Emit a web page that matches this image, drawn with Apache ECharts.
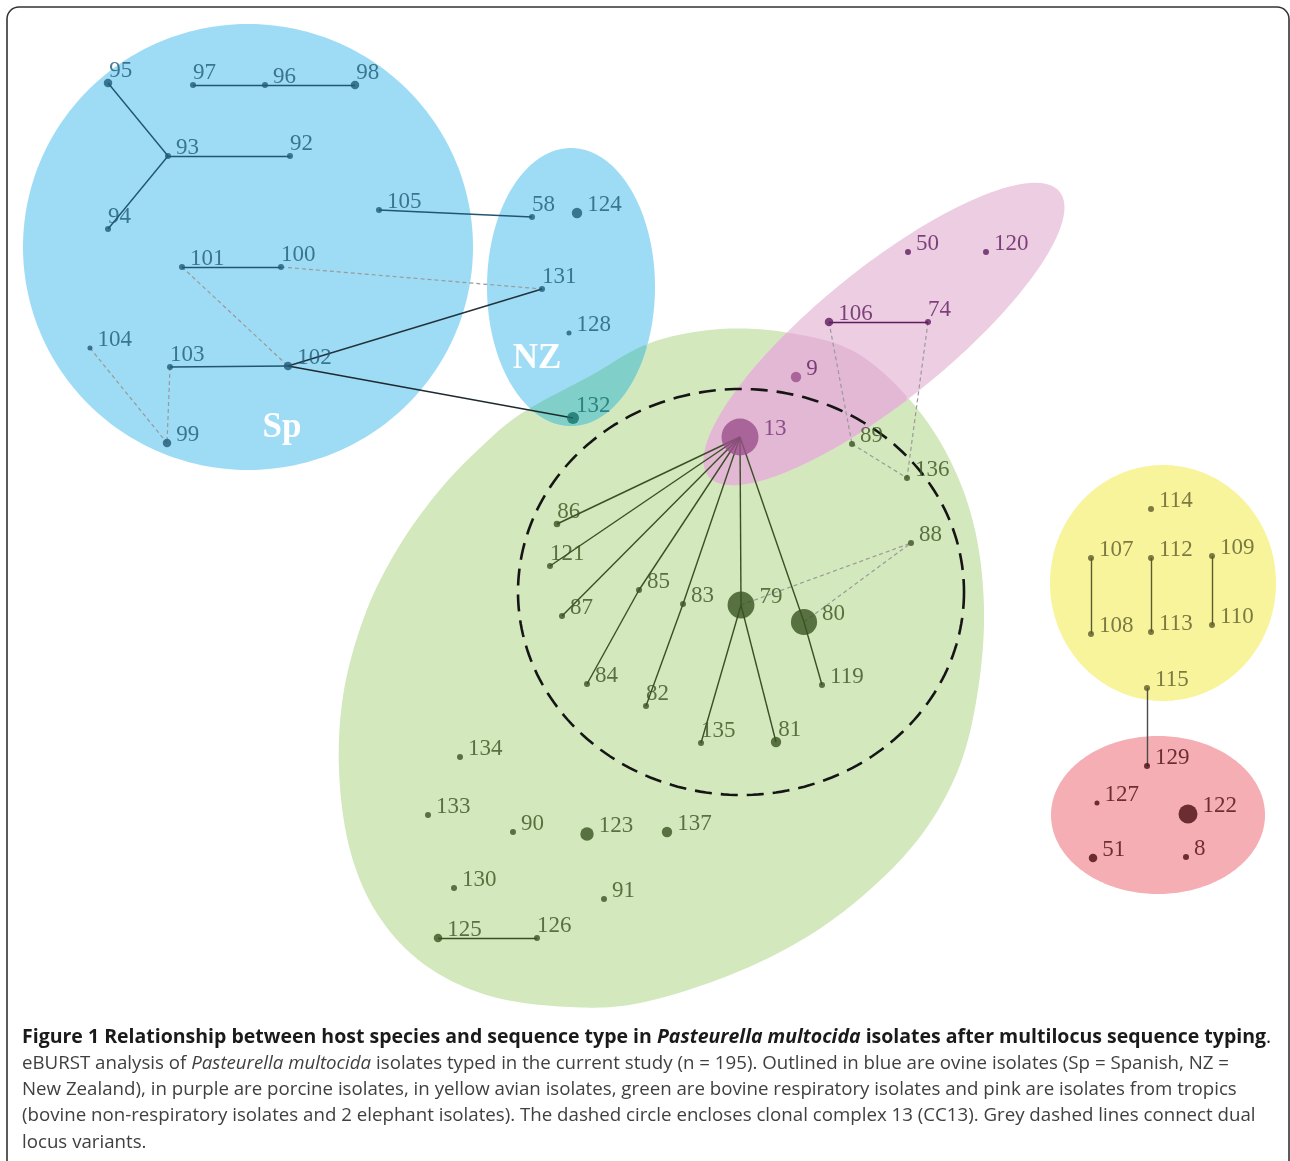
<!DOCTYPE html>
<html><head><meta charset="utf-8">
<script src="https://cdn.jsdelivr.net/npm/echarts/dist/echarts.min.js"></script>
<style>html,body{margin:0;padding:0;background:#fff}#c{width:1290px;height:1161px}</style>
</head><body><div id="c"></div>
<script>
// ---------- DATA ----------
// sequence types (eBURST nodes), layout coordinates, estimated isolate counts, host group
const stNames = ['95','97','96','98','93','92','94','105','101','100','104','103','102','99',
  '58','124','131','128','132',
  '50','120','106','74','9','13',
  '89','136','86','121','88','85','87','83','79','80','84','82','119','135','81','134','133','90','123','137','130','91','125','126',
  '114','107','112','109','108','113','110','115',
  '129','127','122','51','8'];
const stX = [108,193,265,355,168,290,108,379,182,281,90,170,288,167,
  532,577,542,569,573,
  908,986,829,928,796,740,
  852,907,557,550,911,639,562,683,741,804,587,646,822,701,776,460,428,513,587,667,454,604,438,537,
  1151,1091,1151,1212,1091,1151,1212,1147,
  1147,1097,1188,1093,1186];
const stY = [83,85,85,85,156,156,229,210,267,267,348,367,366,443,
  217,213,289,333,418,
  252,252,322,322,377,437,
  444,478,524,566,543,590,616,604,605,622,684,706,685,743,742,757,815,832,834,832,888,899,938,938,
  509,558,558,556,634,632,625,688,
  766,803,814,858,857];
const stIsolates = [2,1,1,2,1,1,1,1,1,1,0.7,1,2,2,
  1,3,1,0.7,4,
  1,1,2,1,3,38,
  1,1,1.2,1,1,1,1,1,20,19,1,1,1,1,3,1,1,1,5,3,1,1,2,1,
  1,1,1,1,1,1,1,1,
  1,0.7,10,2,1];
const stGroup = ['Sp','Sp','Sp','Sp','Sp','Sp','Sp','Sp','Sp','Sp','Sp','Sp','Sp','Sp',
  'NZ','NZ','NZ','NZ','NZ',
  'porcine','porcine','porcine','porcine','porcine','porcine',
  'bovine','bovine','bovine','bovine','bovine','bovine','bovine','bovine','bovine','bovine','bovine','bovine','bovine','bovine','bovine','bovine','bovine','bovine','bovine','bovine','bovine','bovine','bovine','bovine',
  'avian','avian','avian','avian','avian','avian','avian','avian',
  'tropics','tropics','tropics','tropics','tropics'];
// single locus variant links
const slvLinks = [['95','93'],['93','92'],['93','94'],['97','96'],['96','98'],['105','58'],['101','100'],
  ['103','102'],['102','131'],['102','132'],['106','74'],
  ['13','86'],['13','121'],['13','87'],['13','85'],['13','83'],['13','79'],['13','80'],
  ['85','84'],['83','82'],['79','135'],['79','81'],['80','119'],['125','126'],
  ['107','108'],['112','113'],['109','110'],['115','129']];
// double locus variant links (grey dashed)
const dlvLinks = [['100','131'],['101','102'],['104','99'],['103','99'],['106','89'],['74','136'],['89','136'],['79','88'],['80','88']];
const captionLines = [
  '{b|Figure 1 Relationship between host species and sequence type in }{bi|Pasteurella multocida}{b| isolates after multilocus sequence typing}{n|.}',
  'eBURST analysis of {i|Pasteurella multocida} isolates typed in the current study (n = 195). Outlined in blue are ovine isolates (Sp = Spanish, NZ =',
  'New Zealand), in purple are porcine isolates, in yellow avian isolates, green are bovine respiratory isolates and pink are isolates from tropics',
  '(bovine non-respiratory isolates and 2 elephant isolates). The dashed circle encloses clonal complex 13 (CC13). Grey dashed lines connect dual',
  'locus variants.'
];

// ---------- STYLE ----------
const groupColor = {Sp:'#1f5a77', NZ:'#1f5a77', porcine:'#5e1b5f', bovine:'#3a5222', avian:'#5d5b2b', tropics:'#4a0c12'};
const nodeColorOverride = {'132':'#17716c','9':'#9a4f8b','13':'#9a4f8b'};
const labelColorOverride = {'132':'#17716c','13':'#743274'};
const labelHug = new Set(['95','97','98','92','94','58','100','131','103','132','86','121','126','74','82','135','81']);
const edgeColor = {Sp:'#22556f', NZ:'#22556f', porcine:'#5e1b5f', bovine:'#3b4f25', avian:'#5d5b2b', tropics:'#4a0c12'};
const edgeOverride = {'102-131':'#22323c','102-132':'#1e2a30','115-129':'#4a4a4a'};
const serif = '"Liberation Serif","DejaVu Serif",serif';
const sans = '"Open Sans","Noto Sans",sans-serif';

// background host regions (shapes in layout space)
const greenCtrl = [[720,329],[790,333],[855,352],[910,400],[950,460],[975,530],[984,610],[978,690],[960,765],[925,830],[875,885],[810,935],[730,975],[640,1003],[570,1007],[490,996],[425,965],[378,915],[350,850],[339,770],[344,690],[366,612],[398,548],[438,492],[480,448],[522,413],[590,376],[650,343]];
const ellSp   = {c:[248,247], rx:225, ry:223, rot:0};
const ellNZ   = {c:[571,287], rx:84, ry:139, rot:0};
const ellPig  = {c:[884,334], rx:226, ry:66, rot:-39};
const ellAv   = {c:[1163,583], rx:113, ry:118, rot:0};
const ellTrop = {c:[1158,815], rx:107, ry:79, rot:0};
const ellCC13 = {c:[741,592], rx:223, ry:203, rot:0};

// ---------- GEOMETRY HELPERS ----------
function catmull(P, seg){
  const out=[], n=P.length;
  for(let i=0;i<n;i++){
    const p0=P[(i-1+n)%n], p1=P[i], p2=P[(i+1)%n], p3=P[(i+2)%n];
    for(let k=0;k<seg;k++){
      const t=k/seg, t2=t*t, t3=t2*t;
      out.push([0,1].map(d=>0.5*((2*p1[d])+(-p0[d]+p2[d])*t+(2*p0[d]-5*p1[d]+4*p2[d]-p3[d])*t2+(-p0[d]+3*p1[d]-3*p2[d]+p3[d])*t3)));
    }
  }
  return out;
}
function ellPoly(r){
  const pts=[], th=r.rot*Math.PI/180;
  for(let k=0;k<240;k++){
    const t=k/240*2*Math.PI, ex=r.rx*Math.cos(t), ey=r.ry*Math.sin(t);
    pts.push([r.c[0]+ex*Math.cos(th)-ey*Math.sin(th), r.c[1]+ex*Math.sin(th)+ey*Math.cos(th)]);
  }
  return pts;
}
function inPoly(p, poly){
  let c=false;
  for(let i=0,j=poly.length-1;i<poly.length;j=i++){
    const a=poly[i], b=poly[j];
    if(((a[1]>p[1])!==(b[1]>p[1])) && (p[0] < (b[0]-a[0])*(p[1]-a[1])/(b[1]-a[1])+a[0])) c=!c;
  }
  return c;
}
function intersect(A,B){
  const pts=A.filter(p=>inPoly(p,B)).concat(B.filter(p=>inPoly(p,A)));
  if(!pts.length) return pts;
  const cx=pts.reduce((s,p)=>s+p[0],0)/pts.length, cy=pts.reduce((s,p)=>s+p[1],0)/pts.length;
  return pts.sort((p,q)=>Math.atan2(p[1]-cy,p[0]-cx)-Math.atan2(q[1]-cy,q[0]-cx));
}

const greenPoly = catmull(greenCtrl, 14);
const nzPoly = ellPoly(ellNZ), pigPoly = ellPoly(ellPig);
const regions = [
  {pts:greenPoly, fill:'#d3e8bc'},
  {pts:ellPoly(ellSp), fill:'#9edcf5', text:'Sp', tp:[282,428]},
  {pts:nzPoly, fill:'#9edcf5', text:'NZ', tp:[537,359]},
  {pts:intersect(nzPoly, greenPoly), fill:'#80cfc8'},
  {pts:pigPoly, fill:'#edcde2'},
  {pts:intersect(pigPoly, greenPoly), fill:'#e3b8d5'},
  {pts:ellPoly(ellAv), fill:'#f8f49c'},
  {pts:ellPoly(ellTrop), fill:'#f5aeb3'},
  {pts:ellPoly(ellCC13), stroke:'#151515', dash:[17,9]}
];

// ---------- BUILD ----------
const idx = {};
stNames.forEach((n,i)=>idx[n]=i);

const nodeData = stNames.map((n,i)=>({
  name:n,
  value:[stX[i], stY[i]],
  symbolSize: 6*Math.sqrt(stIsolates[i]),
  itemStyle:{color: nodeColorOverride[n] || groupColor[stGroup[i]]},
  label:{color: labelColorOverride[n] || groupColor[stGroup[i]], offset: labelHug.has(n) ? [-8,-12] : [0,-8]}
}));

function linkData(list, dashed){
  return list.map(([a,b])=>{
    const ia=idx[a], ib=idx[b];
    const col = dashed ? '#9a9a9a' : (edgeOverride[a+'-'+b] || edgeColor[stGroup[ib]]);
    return {coords:[[stX[ia],stY[ia]],[stX[ib],stY[ib]]],
      lineStyle:{color:col, width: dashed?1.2:1.4, type: dashed?[4,3]:'solid', opacity:1}};
  });
}

const chart = echarts.init(document.getElementById('c'), null, {renderer:'canvas'});
chart.setOption({
  animation:false,
  backgroundColor:'#ffffff',
  grid:{left:0,right:0,top:0,bottom:0},
  xAxis:{type:'value',min:0,max:1290,show:false},
  yAxis:{type:'value',min:0,max:1161,inverse:true,show:false},
  series:[
    {type:'custom', coordinateSystem:'cartesian2d', silent:true, z:1, clip:false,
      data: regions.map((r,i)=>[i,0]),
      renderItem:(params, api)=>{
        const r = regions[params.dataIndex];
        const children=[];
        const pts = r.pts.map(p=>api.coord(p));
        if(r.stroke){
          children.push({type:'polygon', shape:{points:pts}, style:{fill:null, stroke:r.stroke, lineWidth:2.6, lineDash:r.dash}});
        } else if(pts.length){
          children.push({type:'polygon', shape:{points:pts}, style:{fill:r.fill}});
        }
        if(r.text){
          const p=api.coord(r.tp);
          children.push({type:'text', x:p[0], y:p[1], style:{text:r.text, fill:'#ffffff', font:'bold 35px '+serif, align:'center', verticalAlign:'middle'}});
        }
        return {type:'group', children};
      }
    },
    {type:'lines', coordinateSystem:'cartesian2d', silent:true, z:2, data:linkData(dlvLinks,true)},
    {type:'lines', coordinateSystem:'cartesian2d', silent:true, z:3, data:linkData(slvLinks,false)},
    {type:'scatter', silent:true, z:4, symbol:'circle',
      data:nodeData,
      label:{show:true, formatter:'{b}', position:'right', distance:5, fontFamily:serif, fontSize:23}
    }
  ],
  graphic:[
    {type:'rect', shape:{x:7,y:7,width:1282,height:1175,r:12}, style:{fill:null, stroke:'#333', lineWidth:1.6}, z:10},
    ...captionLines.map((t,i)=>({
      type:'text', x:22, y:1037+i*26.3, z:10,
      style:{text:t, font:'18.7px '+sans, fill:'#404040', verticalAlign:'middle', align:'left',
        rich:{
          b:{fontFamily:sans, fontWeight:'bold', fontSize:19.5, fill:'#1a1a1a'},
          bi:{fontFamily:sans, fontWeight:'bold', fontStyle:'italic', fontSize:19.5, fill:'#1a1a1a'},
          n:{fontFamily:sans, fontSize:19.5, fill:'#1a1a1a'},
          i:{fontFamily:sans, fontStyle:'italic', fontSize:18.7, fill:'#404040'}
        }}
    }))
  ]
});
</script></body></html>
